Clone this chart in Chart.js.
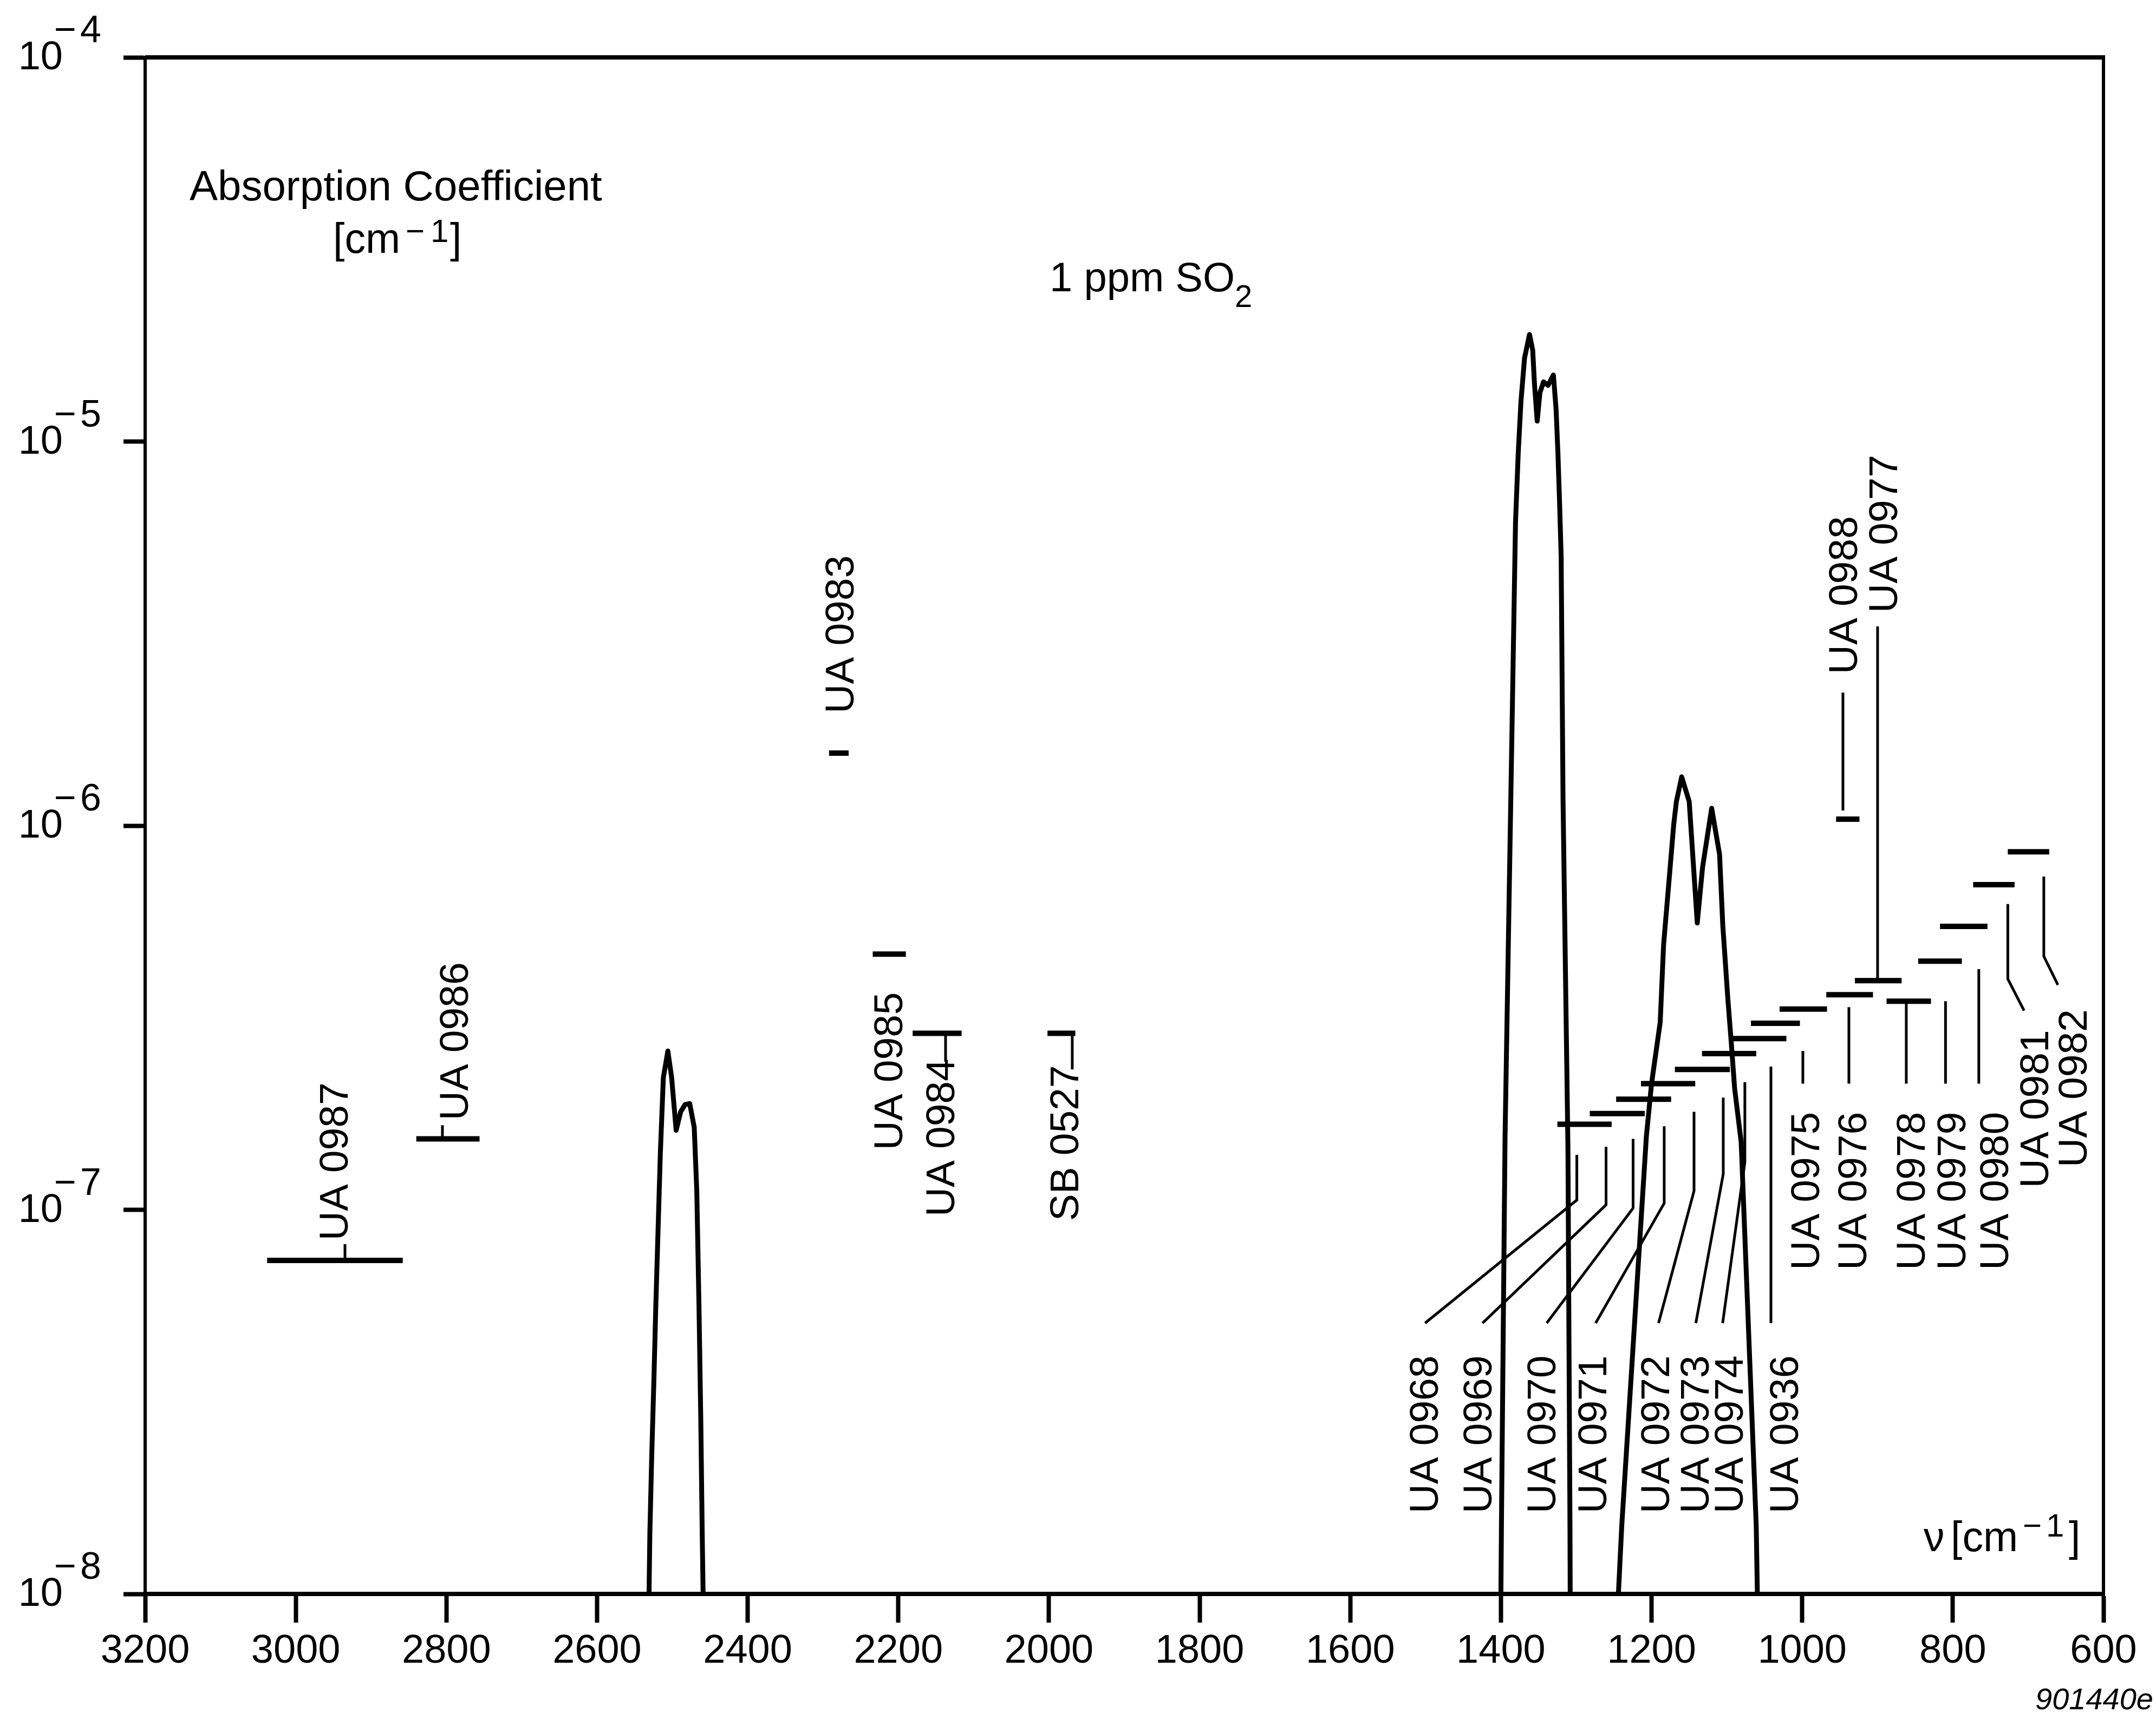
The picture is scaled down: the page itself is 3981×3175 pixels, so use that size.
<!DOCTYPE html>
<html>
<head>
<meta charset="utf-8">
<script src="https://cdn.jsdelivr.net/npm/chart.js@4/dist/chart.umd.min.js"></script>
<style>
  html, body { margin: 0; padding: 0; background: #fff; }
  canvas { display: block; }
</style>
</head>
<body>
<canvas id="c" width="3981" height="3175"></canvas>
<script>
// SO2 absorption spectrum (1 ppm) with the detection limits of the filter instruments.

// Combination band near 2500 cm-1: wavenumber [cm-1] and absorption coefficient [cm-1]
const nuBandA = [2531, 2529.9, 2527.5, 2524.6, 2522, 2519, 2516, 2512, 2506, 2501, 2495, 2489, 2483, 2477, 2471, 2467.6, 2464.7, 2462.3, 2460.4, 2459.2];
const kBandA  = [1e-8, 1.44e-8, 2.26e-8, 3.57e-8, 5.63e-8, 8.89e-8, 1.40e-7, 2.21e-7, 2.59e-7, 2.21e-7, 1.61e-7, 1.80e-7, 1.88e-7, 1.89e-7, 1.64e-7, 1.12e-7, 5.64e-8, 2.85e-8, 1.44e-8, 1e-8];

// Asymmetric stretch near 1360 cm-1
const nuBandB = [1400, 1399.3, 1394.5, 1380.6, 1377, 1373.4, 1368.6, 1362, 1357.8, 1355.4, 1351.8, 1348.2, 1343.4, 1337.5, 1330.3, 1326.7, 1324.3, 1322, 1320, 1317.5, 1311, 1308.3, 1308];
const kBandB  = [1e-8, 1.5e-8, 1.55e-7, 6.17e-6, 9.33e-6, 1.27e-5, 1.65e-5, 1.90e-5, 1.73e-5, 1.41e-5, 1.13e-5, 1.34e-5, 1.43e-5, 1.40e-5, 1.49e-5, 1.21e-5, 9.33e-6, 6.84e-6, 5.0e-6, 1.16e-6, 1.45e-7, 1.5e-8, 1e-8];

// Symmetric stretch near 1150 cm-1
const nuBandC = [1244, 1239.6, 1206.9, 1200, 1188.5, 1184, 1175.3, 1170.5, 1167, 1160, 1150, 1139.3, 1132.3, 1120.2, 1109.7, 1105.4, 1098.6, 1094, 1089.7, 1081, 1061, 1059.5];
const kBandC  = [1e-8, 1.5e-8, 1.55e-7, 2.13e-7, 3.08e-7, 4.9e-7, 7.79e-7, 1.01e-6, 1.156e-6, 1.34e-6, 1.156e-6, 5.58e-7, 7.78e-7, 1.11e-6, 8.42e-7, 5.5e-7, 3.52e-7, 2.7e-7, 2.07e-7, 1.5e-7, 1.5e-8, 1e-8];

// Instrument filters: name, passband edges [cm-1] and detection limit [cm-1]
const filterNames = ['UA 0987', 'UA 0986', 'UA 0983', 'UA 0985', 'UA 0984', 'SB 0527',
  'UA 0968', 'UA 0969', 'UA 0970', 'UA 0971', 'UA 0972', 'UA 0973', 'UA 0974', 'UA 0936',
  'UA 0975', 'UA 0976', 'UA 0977', 'UA 0978', 'UA 0979', 'UA 0980', 'UA 0981', 'UA 0982', 'UA 0988'];
const filterFrom = [3038, 2840, 2292, 2234, 2181, 2002,
  1325, 1282, 1247, 1214, 1169, 1133, 1092, 1068,
  1030, 968, 930, 888, 846, 817, 773, 727, 955];
const filterTo = [2858, 2756, 2266, 2190, 2116, 1965,
  1253, 1209, 1174, 1142, 1096, 1061, 1021, 1003,
  967, 906, 868, 829, 788, 754, 718, 672, 924];
const filterLimit = [7.38e-8, 1.53e-7, 1.545e-6, 4.63e-7, 2.88e-7, 2.88e-7,
  1.67e-7, 1.78e-7, 1.94e-7, 2.13e-7, 2.32e-7, 2.55e-7, 2.79e-7, 3.06e-7,
  3.33e-7, 3.63e-7, 3.95e-7, 3.49e-7, 4.44e-7, 5.47e-7, 7.02e-7, 8.55e-7, 1.04e-6];

// Axis ticks
const xTicks = [3200, 3000, 2800, 2600, 2400, 2200, 2000, 1800, 1600, 1400, 1200, 1000, 800, 600];
const yDecades = [-8, -7, -6, -5, -4];

// Label placement in axis units: foot of each vertical label (wavenumber, level)
const labelAnchor = [
  [2931, 8.32e-8], [2771.5, 1.71e-7], [2259.5, 1.96e-6], [2194.8, 1.43e-7], [2125.8, 9.6e-8], [1961.2, 9.35e-8],
  [1483.7, 1.62e-8], [1412.5, 1.62e-8], [1327.7, 1.62e-8], [1260.1, 1.62e-8], [1176.7, 1.62e-8], [1124.2, 1.62e-8], [1078.9, 1.62e-8], [1005.6, 1.62e-8],
  [977.2, 6.97e-8], [914.6, 6.97e-8], [874, 3.58e-6], [837.3, 6.97e-8], [783.4, 6.97e-8], [726.6, 6.97e-8], [673.4, 1.14e-7], [622.3, 1.29e-7], [927.2, 2.48e-6]
];
// Leader lines from the filter bars to their labels, in axis units
const leaderPaths = [
  [[2934.7, 7.38e-8], [2934.7, 8.14e-8]],
  [[2805.3, 1.53e-7], [2805.3, 1.66e-7]],
  [],
  [],
  [[2137.3, 2.88e-7], [2137.3, 2.43e-7]],
  [[1969.1, 2.88e-7], [1969.1, 2.32e-7]],
  [[1299.2, 1.39e-7], [1299.2, 1.06e-7], [1500.7, 5.07e-8]],
  [[1260.4, 1.46e-7], [1260.4, 1.03e-7], [1424.4, 5.07e-8]],
  [[1224.5, 1.53e-7], [1224.5, 1.01e-7], [1339.2, 5.07e-8]],
  [[1183.2, 1.65e-7], [1183.2, 1.04e-7], [1274.2, 5.07e-8]],
  [[1143.6, 1.80e-7], [1143.6, 1.12e-7], [1190.7, 5.07e-8]],
  [[1104.8, 1.96e-7], [1104.8, 1.24e-7], [1141.2, 5.07e-8]],
  [[1076.1, 2.15e-7], [1076.1, 1.33e-7], [1105.6, 5.07e-8]],
  [[1041.5, 2.36e-7], [1041.5, 5.07e-8]],
  [[999.1, 2.59e-7], [999.1, 2.13e-7]],
  [[938, 3.37e-7], [938, 2.13e-7]],
  [[899.9, 3.95e-7], [899.9, 3.30e-6]],
  [[861.8, 3.49e-7], [861.8, 2.13e-7]],
  [[809.7, 3.49e-7], [809.7, 2.13e-7]],
  [[765.5, 4.23e-7], [765.5, 2.13e-7]],
  [[727, 6.25e-7], [727, 3.99e-7], [705.4, 3.30e-7]],
  [[679.2, 7.37e-7], [679.2, 4.57e-7], [660.5, 3.85e-7]],
  [[945.9, 1.095e-6], [945.9, 2.22e-6]]
];

const FONT = 'Liberation Sans, Arial, sans-serif';

function toPoints(nu, k) {
  return nu.map((n, i) => ({ x: n, y: k[i] }));
}

const spectrumStyle = {
  borderColor: '#000', borderWidth: 9, pointRadius: 0, tension: 0,
  borderJoinStyle: 'round', borderCapStyle: 'butt', fill: false
};

const datasets = [
  Object.assign({ label: 'band A', data: toPoints(nuBandA, kBandA) }, spectrumStyle),
  Object.assign({ label: 'band B', data: toPoints(nuBandB, kBandB) }, spectrumStyle),
  Object.assign({ label: 'band C', data: toPoints(nuBandC, kBandC) }, spectrumStyle)
];
filterNames.forEach((name, i) => {
  datasets.push({
    label: name,
    data: [{ x: filterFrom[i], y: filterLimit[i] }, { x: filterTo[i], y: filterLimit[i] }],
    borderColor: '#000', borderWidth: 10, pointRadius: 0, borderCapStyle: 'butt', fill: false
  });
});

const decorations = {
  id: 'decorations',
  beforeDraw(chart) {
    const ctx = chart.ctx;
    ctx.save();
    ctx.fillStyle = '#fff';
    ctx.fillRect(0, 0, chart.width, chart.height);
    ctx.restore();
  },
  afterDraw(chart) {
    const { ctx, chartArea: a, scales: { x, y } } = chart;
    ctx.save();
    ctx.strokeStyle = '#000';
    ctx.fillStyle = '#000';

    // top and right frame lines
    ctx.lineCap = 'butt';
    ctx.lineWidth = 8;
    ctx.beginPath(); ctx.moveTo(a.left, a.top); ctx.lineTo(a.right + 3, a.top); ctx.stroke();
    ctx.lineWidth = 6;
    ctx.beginPath(); ctx.moveTo(a.right, a.top - 4); ctx.lineTo(a.right, a.bottom + 4); ctx.stroke();

    // y tick labels as powers of ten
    yDecades.forEach(e => {
      const py = y.getPixelForValue(Math.pow(10, e));
      const base = py + 22;
      ctx.font = '74px ' + FONT;
      ctx.textAlign = 'right';
      ctx.textBaseline = 'alphabetic';
      ctx.fillText('10', 116, base);
      ctx.textAlign = 'left';
      ctx.font = '70px ' + FONT;
      ctx.fillText('\u2212', 100, base - 50);
      ctx.fillText(String(-e), 148, base - 50);
    });

    // axis titles and annotation
    ctx.textAlign = 'left';
    ctx.textBaseline = 'alphabetic';
    ctx.font = '78px ' + FONT;
    ctx.fillText('Absorption Coefficient', 350, 370);
    ctx.font = '77px ' + FONT;
    ctx.fillText('[cm', 615, 467);
    ctx.fillText(']', 831, 467);
    ctx.font = '60px ' + FONT;
    ctx.fillText('\u2212', 749, 447);
    ctx.fillText('1', 795, 447);

    ctx.font = '76px ' + FONT;
    ctx.fillText('1 ppm SO', 1938, 538);
    ctx.font = '58px ' + FONT;
    ctx.fillText('2', 2280, 567);

    ctx.font = '77px ' + FONT;
    ctx.fillText('\u03bd', 3552, 2865);
    ctx.fillText('[cm', 3602, 2865);
    ctx.fillText(']', 3820, 2865);
    ctx.font = '60px ' + FONT;
    ctx.fillText('\u2212', 3735, 2838);
    ctx.fillText('1', 3778, 2838);

    ctx.font = 'italic 56px ' + FONT;
    ctx.textAlign = 'right';
    ctx.fillText('901440e', 3976, 3157);

    // leader lines
    ctx.lineWidth = 5;
    ctx.lineCap = 'butt';
    ctx.lineJoin = 'miter';
    leaderPaths.forEach(path => {
      if (!path.length) return;
      ctx.beginPath();
      path.forEach((p, j) => {
        const px = x.getPixelForValue(p[0]);
        const py = y.getPixelForValue(p[1]);
        if (j === 0) ctx.moveTo(px, py); else ctx.lineTo(px, py);
      });
      ctx.stroke();
    });

    // vertical filter labels
    ctx.font = '75px ' + FONT;
    ctx.textAlign = 'left';
    ctx.textBaseline = 'alphabetic';
    filterNames.forEach((name, i) => {
      const px = x.getPixelForValue(labelAnchor[i][0]);
      const py = y.getPixelForValue(labelAnchor[i][1]);
      ctx.save();
      ctx.translate(px, py);
      ctx.rotate(-Math.PI / 2);
      ctx.fillText(name, 0, 0);
      ctx.restore();
    });
    ctx.restore();
  }
};

new Chart(document.getElementById('c'), {
  type: 'line',
  data: { datasets },
  options: {
    responsive: false,
    animation: false,
    devicePixelRatio: 1,
    layout: { padding: { top: 106, right: 97, left: 0, bottom: 0 } },
    plugins: { legend: { display: false }, tooltip: { enabled: false } },
    scales: {
      x: {
        type: 'linear', reverse: true, min: 600, max: 3200,
        afterBuildTicks: s => { s.ticks = xTicks.map(v => ({ value: v })); },
        ticks: {
          color: '#000', font: { family: FONT, size: 74 }, padding: 9,
          maxRotation: 0, autoSkip: false, callback: v => String(v)
        },
        grid: { drawOnChartArea: false, drawTicks: true, tickLength: 53, tickWidth: 8, tickColor: '#000', color: '#000' },
        border: { display: true, width: 8, color: '#000' },
        afterFit: s => { s.height = 231; }
      },
      y: {
        type: 'logarithmic', min: 1e-8, max: 1e-4,
        afterBuildTicks: s => { s.ticks = yDecades.map(e => ({ value: Math.pow(10, e) })); },
        ticks: { display: false },
        grid: { drawOnChartArea: false, drawTicks: true, tickLength: 40, tickWidth: 8, tickColor: '#000', color: '#000' },
        border: { display: true, width: 6, color: '#000' },
        afterFit: s => { s.width = 268; }
      }
    }
  },
  plugins: [decorations]
});
</script>
</body>
</html>
